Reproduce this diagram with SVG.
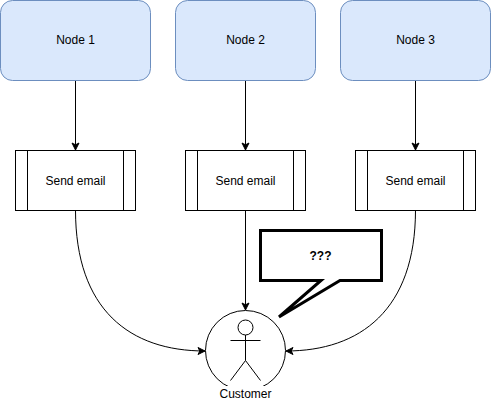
<svg xmlns="http://www.w3.org/2000/svg" width="491" height="402" viewBox="0 0 491 402">
<defs>
<style>
text{font-family:"Liberation Sans",Arial,sans-serif;font-size:12px;fill:#000;text-anchor:middle}
.n{fill:#dae8fc;stroke:#6c8ebf;stroke-width:1}
.p{fill:#fff;stroke:#000;stroke-width:1}
.c{fill:none;stroke:#000;stroke-width:1}
</style>
<marker id="a" markerUnits="userSpaceOnUse" markerWidth="10" markerHeight="10" refX="8" refY="5" orient="auto"><path d="M1 1.500L8 5L1 8.500L2.800 5Z" fill="#000" stroke="#000"/></marker>
</defs>
<g id="connectors">
<path class="c" marker-end="url(#a)" d="M75.500 80V150"/>
<path class="c" marker-end="url(#a)" d="M245.500 80V150"/>
<path class="c" marker-end="url(#a)" d="M415.500 80V150"/>
<path class="c" marker-end="url(#a)" d="M75.500 210C75.500 310 130 351 205 351"/>
<path class="c" marker-end="url(#a)" d="M245.500 210V310"/>
<path class="c" marker-end="url(#a)" d="M415.500 210C415.500 310 360 351 286 351"/>
</g>
<g id="node1"><rect class="n" x="0.500" y="0.500" width="150" height="80" rx="12"/><text x="75.500" y="44">Node 1</text></g>
<g id="node2"><rect class="n" x="175.500" y="0.500" width="140" height="80" rx="12"/><text x="245.500" y="44">Node 2</text></g>
<g id="node3"><rect class="n" x="340.500" y="0.500" width="150" height="80" rx="12"/><text x="415.500" y="44">Node 3</text></g>
<g id="email1"><rect class="p" x="15.500" y="150.500" width="120" height="60"/><path class="c" d="M27.500 150.500V210.500M123.500 150.500V210.500"/><text x="75.500" y="185">Send email</text></g>
<g id="email2"><rect class="p" x="185.500" y="150.500" width="120" height="60"/><path class="c" d="M197.500 150.500V210.500M293.500 150.500V210.500"/><text x="245.500" y="185">Send email</text></g>
<g id="email3"><rect class="p" x="355.500" y="150.500" width="120" height="60"/><path class="c" d="M367.500 150.500V210.500M463.500 150.500V210.500"/><text x="415.500" y="185">Send email</text></g>
<g id="customer"><circle class="p" cx="245.500" cy="350.500" r="40"/>
<circle class="p" cx="245.500" cy="327.500" r="7.500"/><path class="c" d="M245.500 335V360.500M230.500 340.500H260.500M245.500 360.500L230.500 380.500M245.500 360.500L260.500 380.500"/>
<rect x="218" y="386" width="55" height="16" fill="#fff"/>
<text x="245.500" y="398">Customer</text></g>
<g id="callout"><path d="M260.500 230.500H381.500V280.500H340L279 317L321 280.500H260.500Z" fill="#fff" stroke="#000" stroke-width="3"/><text x="320.500" y="260" style="font-weight:bold">???</text></g>
</svg>
